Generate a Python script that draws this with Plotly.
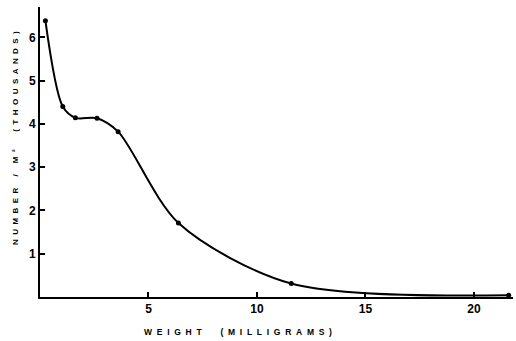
import plotly.graph_objects as go

# Mean body weight (mg) vs population density (thousands per m^2)
weight_mg = [0.25, 1.05, 1.63, 2.63, 3.6, 6.38, 11.58, 21.6]
number_thousands = [6.38, 4.4, 4.14, 4.13, 3.82, 1.71, 0.31, 0.04]

x_ticks = [5, 10, 15, 20]
y_ticks = [1, 2, 3, 4, 5, 6]

x_title = "WEIGHT  (MILLIGRAMS)"
y_title = "NUMBER / M²  (THOUSANDS)"


def spaced(text, gap="\u00a0\u00a0"):
    """Spread a title out letter by letter, keeping word gaps wider."""
    return gap.join(ch if ch != " " else "\u00a0" for ch in text)


fig = go.Figure()
fig.add_trace(go.Scatter(
    x=weight_mg, y=number_thousands,
    mode="lines+markers",
    line=dict(color="black", width=2, shape="spline", smoothing=0.85),
    marker=dict(color="black", size=5),
    showlegend=False,
))

tick_font = dict(family="Liberation Sans", size=12, color="black", weight="bold")

fig.update_layout(
    width=516, height=341,
    margin=dict(l=40, r=3, t=7, b=44),
    paper_bgcolor="white", plot_bgcolor="white",
    xaxis=dict(
        range=[0, 21.8], showgrid=False, zeroline=False,
        showline=True, linecolor="black", linewidth=2,
        ticks="inside", ticklen=5, tickwidth=1.5, tickcolor="black",
        tickvals=x_ticks, tickfont=tick_font,
    ),
    yaxis=dict(
        range=[0, 6.7], showgrid=False, zeroline=False,
        showline=True, linecolor="black", linewidth=2,
        ticks="inside", ticklen=5, tickwidth=1.5, tickcolor="black",
        tickvals=y_ticks, tickfont=tick_font,
    ),
    annotations=[
        dict(text=spaced(x_title),
             xref="paper", yref="paper", x=0.418, y=-0.12,
             xanchor="center", yanchor="middle", showarrow=False,
             font=dict(family="Liberation Sans", size=8.5, color="black", weight="bold")),
        dict(text=spaced(y_title),
             xref="paper", yref="paper", x=-0.053, y=0.548,
             xanchor="center", yanchor="middle", showarrow=False, textangle=-90,
             font=dict(family="Liberation Sans", size=8, color="black", weight="bold")),
    ],
)

fig.write_html("out.html")
